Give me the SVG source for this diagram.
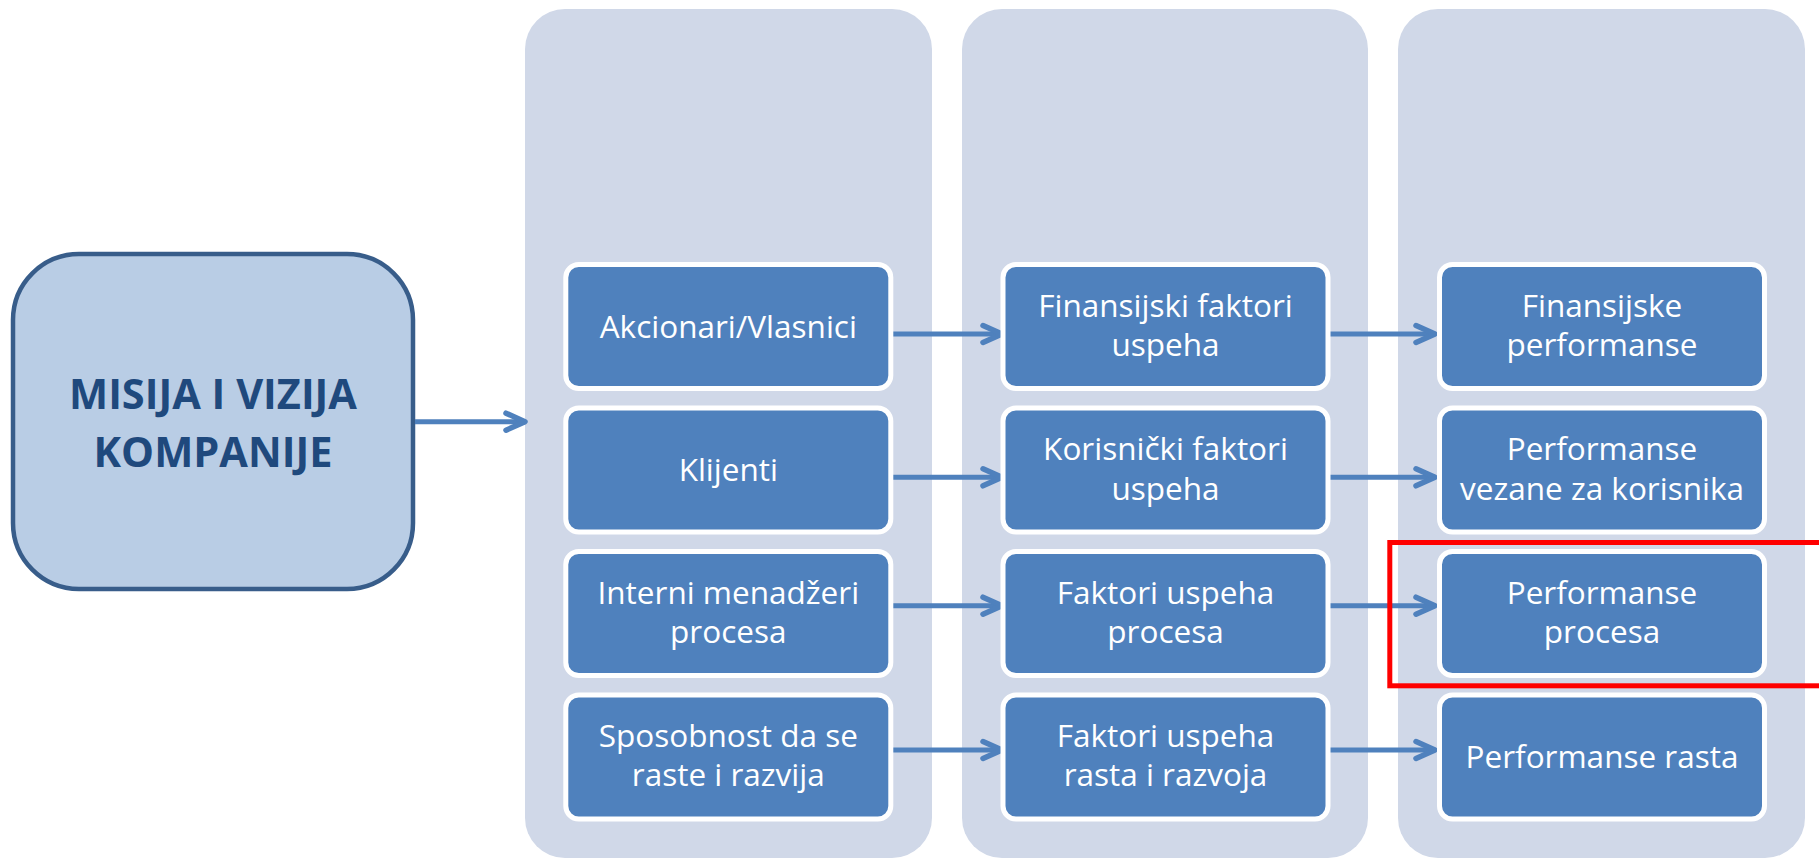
<svg xmlns="http://www.w3.org/2000/svg" width="1819" height="858" viewBox="0 0 1819 858">
  <style>
    .lane { fill: #D0D8E8; }
    .box { fill: #4F81BD; stroke: #FFFFFF; stroke-width: 5; }
    .lbl { font-family: "Open Sans", "Liberation Sans", sans-serif; font-size: 31.5px; fill: #FFFFFF; text-anchor: middle; }
    .title { font-family: "Open Sans", "Liberation Sans", sans-serif; font-size: 41.5px; font-weight: bold; fill: #1F497D; text-anchor: middle; }
    .link { fill: none; stroke: #4F81BD; stroke-width: 5; marker-end: url(#chev); }
    .mark { fill: none; stroke: #FF0000; stroke-width: 5; }
  </style>
  <defs>
    <marker id="chev" markerUnits="userSpaceOnUse" viewBox="0 0 28 26" markerWidth="28" markerHeight="26" refX="22" refY="13" orient="auto">
      <path d="M3 4.5 L22 13 L3 21.5" fill="none" stroke="#4F81BD" stroke-width="5.5" stroke-linecap="round" stroke-linejoin="round"/>
    </marker>
  </defs>

  <rect width="1819" height="858" fill="#FFFFFF"/>

  <!-- column lanes -->
  <g id="lanes">
    <rect class="lane" x="525" y="9" width="407" height="849" rx="40"/>
    <rect class="lane" x="962" y="9" width="406" height="849" rx="40"/>
    <rect class="lane" x="1398" y="9" width="407" height="849" rx="40"/>
  </g>

  <!-- mission box -->
  <g id="misija">
    <rect x="13" y="254" width="400" height="335" rx="66" fill="#B9CDE5" stroke="#385D8A" stroke-width="4.5"/>
    <text class="title" x="213" y="408.5">MISIJA I VIZIJA</text>
    <text class="title" x="213" y="467">KOMPANIJE</text>
  </g>

  <!-- connectors -->
  <g id="connectors">
    <path class="link" d="M415 421.7 H525"/>
    <path class="link" d="M891 334 H1002"/>
    <path class="link" d="M1328 334 H1435"/>
    <path class="link" d="M891 477.3 H1002"/>
    <path class="link" d="M1328 477.3 H1435"/>
    <path class="link" d="M891 605.7 H1002"/>
    <path class="link" d="M1328 605.7 H1435"/>
    <path class="link" d="M891 750 H1002"/>
    <path class="link" d="M1328 750 H1435"/>
  </g>

  <!-- column 1 -->
  <g id="akcionari">
    <rect class="box" x="565.8" y="264.5" width="325" height="124" rx="13"/>
    <text class="lbl" x="728.3" y="337.5">Akcionari/Vlasnici</text>
  </g>
  <g id="klijenti">
    <rect class="box" x="565.8" y="408" width="325" height="124" rx="13"/>
    <text class="lbl" x="728.3" y="481">Klijenti</text>
  </g>
  <g id="interni">
    <rect class="box" x="565.8" y="551.5" width="325" height="124" rx="13"/>
    <text class="lbl" x="728.3" y="603.5">Interni menadžeri</text>
    <text class="lbl" x="728.3" y="642.5">procesa</text>
  </g>
  <g id="sposobnost">
    <rect class="box" x="565.8" y="695" width="325" height="124" rx="13"/>
    <text class="lbl" x="728.3" y="747">Sposobnost da se</text>
    <text class="lbl" x="728.3" y="786">raste i razvija</text>
  </g>

  <!-- column 2 -->
  <g id="finansijski-faktori">
    <rect class="box" x="1003" y="264.5" width="325" height="124" rx="13"/>
    <text class="lbl" x="1165.5" y="316.5">Finansijski faktori</text>
    <text class="lbl" x="1165.5" y="356">uspeha</text>
  </g>
  <g id="korisnicki-faktori">
    <rect class="box" x="1003" y="408" width="325" height="124" rx="13"/>
    <text class="lbl" x="1165.5" y="460">Korisnički faktori</text>
    <text class="lbl" x="1165.5" y="499.5">uspeha</text>
  </g>
  <g id="faktori-procesa">
    <rect class="box" x="1003" y="551.5" width="325" height="124" rx="13"/>
    <text class="lbl" x="1165.5" y="603.5">Faktori uspeha</text>
    <text class="lbl" x="1165.5" y="642.5">procesa</text>
  </g>
  <g id="faktori-rasta">
    <rect class="box" x="1003" y="695" width="325" height="124" rx="13"/>
    <text class="lbl" x="1165.5" y="747">Faktori uspeha</text>
    <text class="lbl" x="1165.5" y="786">rasta i razvoja</text>
  </g>

  <!-- column 3 -->
  <g id="finansijske-performanse">
    <rect class="box" x="1439.5" y="264.5" width="325" height="124" rx="13"/>
    <text class="lbl" x="1602" y="316.5">Finansijske</text>
    <text class="lbl" x="1602" y="356">performanse</text>
  </g>
  <g id="performanse-korisnika">
    <rect class="box" x="1439.5" y="408" width="325" height="124" rx="13"/>
    <text class="lbl" x="1602" y="460">Performanse</text>
    <text class="lbl" x="1602" y="499.5">vezane za korisnika</text>
  </g>
  <g id="performanse-procesa">
    <rect class="box" x="1439.5" y="551.5" width="325" height="124" rx="13"/>
    <text class="lbl" x="1602" y="603.5">Performanse</text>
    <text class="lbl" x="1602" y="643">procesa</text>
  </g>
  <g id="performanse-rasta">
    <rect class="box" x="1439.5" y="695" width="325" height="124" rx="13"/>
    <text class="lbl" x="1602" y="768">Performanse rasta</text>
  </g>

  <!-- highlight frame -->
  <g id="highlight">
    <rect class="mark" x="1389.8" y="542.5" width="1428.7" height="143.3"/>
  </g>
</svg>
